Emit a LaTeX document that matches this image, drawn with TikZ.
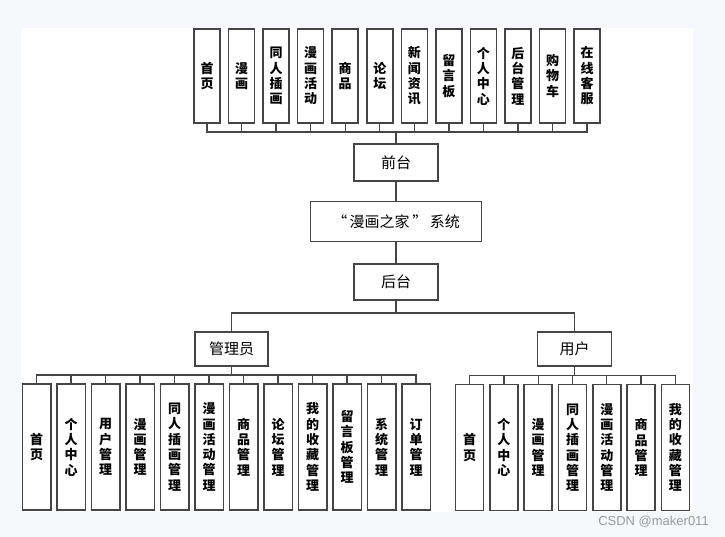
\documentclass[tikz,border=0pt]{standalone}
\usepackage{fontspec}
\newfontfamily\cjk{Noto Sans CJK SC}
\newfontfamily\wmfont{Liberation Sans}
\definecolor{pagebg}{HTML}{F7F8FB}
\definecolor{linec}{HTML}{454545}
\tikzset{
  vbox/.style={draw=linec, line width=1.5pt, fill=white, inner sep=0pt, align=center,
    font=\cjk\bfseries\fontsize{13}{15.3}\selectfont},
  hbox/.style={draw=linec, line width=1.5pt, fill=white, inner sep=0pt, align=center,
    font=\cjk\fontsize{15}{16}\selectfont},
  conn/.style={draw=linec, line width=1.4pt}
}
\begin{document}
\begin{tikzpicture}[x=1pt,y=-1pt]
\fill[pagebg] (0,0) rectangle (725,537);
\useasboundingbox (0,0) rectangle (725,537);
\fill[white] (21,28) rectangle (693,512);

% top row
\foreach \i/\t in {0/首\\页,1/漫\\画,2/同\\人\\插\\画,3/漫\\画\\活\\动,4/商\\品,5/论\\坛,6/新\\闻\\资\\讯,7/留\\言\\板,8/个\\人\\中\\心,9/后\\台\\管\\理,10/购\\物\\车,11/在\\线\\客\\服}{
  \node[vbox, minimum width=26pt, minimum height=94pt] (t\i) at (207+34.55*\i,76) {\t};
}
\coordinate (busT) at (396,132);
\foreach \i in {0,...,11}{ \draw[conn] (t\i.south) |- (busT); }

\node[hbox, minimum width=84pt, minimum height=37pt] (qt) at (396,162.5) {前台};
\node[hbox, minimum width=171pt, minimum height=40pt] (xt) at (396,221.5) {“\,漫画之家\,”\,系统};
\node[hbox, minimum width=84pt, minimum height=36pt] (ht) at (396,282) {后台};
\draw[conn] (busT) -- (qt.north);
\draw[conn] (qt.south) -- (xt.north);
\draw[conn] (xt.south) -- (ht.north);

\node[hbox, minimum width=73pt, minimum height=34pt] (adm) at (231.5,349) {管理员};
\node[hbox, minimum width=74pt, minimum height=34pt] (usr) at (574.7,349) {用户};
\coordinate (busM) at (396,313);
\draw[conn] (ht.south) -- (busM);
\draw[conn] (busM) -| (adm.north);
\draw[conn] (busM) -| (usr.north);

% admin children
\foreach \i/\t in {0/首\\页,1/个\\人\\中\\心,2/用\\户\\管\\理,3/漫\\画\\管\\理,4/同\\人\\插\\画\\管\\理,5/漫\\画\\活\\动\\管\\理,6/商\\品\\管\\理,7/论\\坛\\管\\理,8/我\\的\\收\\藏\\管\\理,9/留\\言\\板\\管\\理,10/系\\统\\管\\理,11/订\\单\\管\\理}{
  \node[vbox, minimum width=28.5pt, minimum height=126pt] (a\i) at (36.5+34.5*\i,447) {\t};
}
\coordinate (busA) at (231.5,375);
\draw[conn] (adm.south) -- (busA);
\foreach \i in {0,...,11}{ \draw[conn] (a\i.north) |- (busA); }

% user children
\foreach \i/\t in {0/首\\页,1/个\\人\\中\\心,2/漫\\画\\管\\理,3/同\\人\\插\\画\\管\\理,4/漫\\画\\活\\动\\管\\理,5/商\\品\\管\\理,6/我\\的\\收\\藏\\管\\理}{
  \node[vbox, minimum width=28pt, minimum height=126pt] (u\i) at (469.7+34.27*\i,447.5) {\t};
}
\coordinate (busU) at (574.7,375.5);
\draw[conn] (usr.south) -- (busU);
\foreach \i in {0,...,6}{ \draw[conn] (u\i.north) |- (busU); }

\node[text=black!40, font=\wmfont\fontsize{13}{14}\selectfont, anchor=center] (wm) at (653.5,522) {CSDN @maker011};
\end{tikzpicture}
\end{document}
